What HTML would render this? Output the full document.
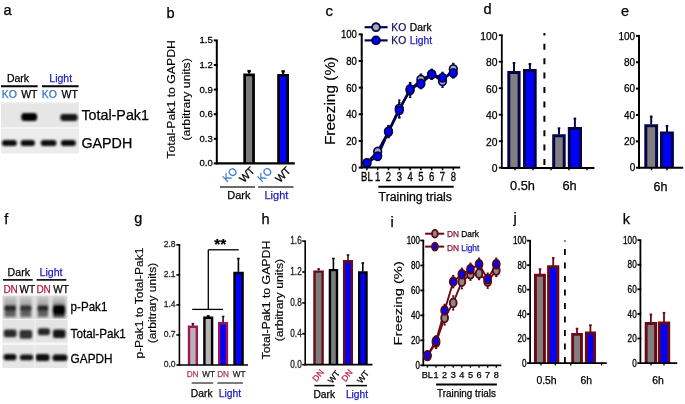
<!DOCTYPE html><html><head><meta charset="utf-8"><style>html,body{margin:0;padding:0;background:#fff;}svg{display:block;font-family:"Liberation Sans",sans-serif;filter:blur(0.3px);}</style></head><body>
<svg width="685" height="404" viewBox="0 0 685 404">
<defs><filter id="b1" x="-50%" y="-50%" width="200%" height="200%"><feGaussianBlur stdDeviation="1.2"/></filter><filter id="b2" x="-50%" y="-50%" width="200%" height="200%"><feGaussianBlur stdDeviation="0.8"/></filter><filter id="b3" x="-50%" y="-50%" width="200%" height="200%"><feGaussianBlur stdDeviation="2"/></filter></defs>
<rect width="685" height="404" fill="#fff"/>
<text x="3.5" y="15.4" font-size="14.5" fill="#000" stroke="#000" stroke-width="0.25">a</text>
<text x="6.9" y="82.3" font-size="10.5" fill="#000" stroke="#000" stroke-width="0.25">Dark</text>
<text x="49.3" y="82.3" font-size="10.5" fill="#1c1cc0" stroke="#1c1cc0" stroke-width="0.25">Light</text>
<line x1="1" y1="86.2" x2="37.6" y2="86.2" stroke="#000" stroke-width="2"/>
<line x1="42" y1="86.2" x2="78.6" y2="86.2" stroke="#000" stroke-width="2"/>
<text x="1.8" y="97.6" font-size="10.5" fill="#3878c0" stroke="#3878c0" stroke-width="0.25">KO</text>
<text x="21.2" y="97.6" font-size="10.5" fill="#000" stroke="#000" stroke-width="0.25">WT</text>
<text x="41.8" y="97.6" font-size="10.5" fill="#3878c0" stroke="#3878c0" stroke-width="0.25">KO</text>
<text x="61.6" y="97.6" font-size="10.5" fill="#000" stroke="#000" stroke-width="0.25">WT</text>
<rect x="1" y="102" width="77.8" height="25.5" fill="#e6e6e6"/>
<rect x="1" y="102" width="78" height="1.5" fill="#efefef"/>
<g filter="url(#b2)">
<rect x="21.3" y="113" width="15.8" height="8" fill="#050505" rx="3.3"/>
<rect x="60.3" y="114" width="17.4" height="6.9" fill="#121212" rx="3"/>
</g>
<rect x="1" y="127.5" width="78" height="1.5" fill="#f5f5f5"/>
<rect x="1" y="129" width="78" height="24.4" fill="#ececec"/>
<g filter="url(#b2)">
<rect x="2" y="140" width="14.8" height="6" fill="#0c0c0c" rx="2.8"/>
<rect x="20.7" y="140" width="14.2" height="6" fill="#0c0c0c" rx="2.8"/>
<rect x="40.8" y="140" width="15.6" height="6" fill="#0c0c0c" rx="2.8"/>
<rect x="60.9" y="140" width="14.9" height="6" fill="#0c0c0c" rx="2.8"/>
</g>
<text x="81.4" y="120" font-size="14.3" fill="#000" stroke="#000" stroke-width="0.25">Total-Pak1</text>
<text x="81.4" y="148.3" font-size="14.3" fill="#000" stroke="#000" stroke-width="0.25">GAPDH</text>
<text x="166.5" y="17.8" font-size="14.5" fill="#000" stroke="#000" stroke-width="0.25">b</text>
<line x1="216.8" y1="40.4" x2="216.8" y2="163.4" stroke="#000" stroke-width="2"/>
<line x1="213.8" y1="163.4" x2="217.8" y2="163.4" stroke="#000" stroke-width="2"/>
<text x="0" y="0" font-size="9.6" fill="#000" text-anchor="end" transform="translate(212.8 166.3) scale(1 1.04)" stroke="#000" stroke-width="0.25">0.0</text>
<line x1="213.8" y1="138.8" x2="217.8" y2="138.8" stroke="#000" stroke-width="2"/>
<text x="0" y="0" font-size="9.6" fill="#000" text-anchor="end" transform="translate(212.8 141.7) scale(1 1.04)" stroke="#000" stroke-width="0.25">0.3</text>
<line x1="213.8" y1="114.2" x2="217.8" y2="114.2" stroke="#000" stroke-width="2"/>
<text x="0" y="0" font-size="9.6" fill="#000" text-anchor="end" transform="translate(212.8 117.1) scale(1 1.04)" stroke="#000" stroke-width="0.25">0.6</text>
<line x1="213.8" y1="89.6" x2="217.8" y2="89.6" stroke="#000" stroke-width="2"/>
<text x="0" y="0" font-size="9.6" fill="#000" text-anchor="end" transform="translate(212.8 92.5) scale(1 1.04)" stroke="#000" stroke-width="0.25">0.9</text>
<line x1="213.8" y1="65" x2="217.8" y2="65" stroke="#000" stroke-width="2"/>
<text x="0" y="0" font-size="9.6" fill="#000" text-anchor="end" transform="translate(212.8 67.9) scale(1 1.04)" stroke="#000" stroke-width="0.25">1.2</text>
<line x1="213.8" y1="40.4" x2="217.8" y2="40.4" stroke="#000" stroke-width="2"/>
<text x="0" y="0" font-size="9.6" fill="#000" text-anchor="end" transform="translate(212.8 43.3) scale(1 1.04)" stroke="#000" stroke-width="0.25">1.5</text>
<line x1="249.1" y1="73.5" x2="249.1" y2="71" stroke="#000" stroke-width="2.2"/>
<line x1="247.4" y1="71" x2="250.8" y2="71" stroke="#000" stroke-width="2.2"/>
<line x1="283.1" y1="73.9" x2="283.1" y2="71.3" stroke="#000" stroke-width="2.2"/>
<line x1="281.4" y1="71.3" x2="284.8" y2="71.3" stroke="#000" stroke-width="2.2"/>
<rect x="244.65" y="74.85" width="8.9" height="88.55" fill="#7b7b7b"/>
<path d="M244.65 163.4V74.85H253.55V163.4" fill="none" stroke="#000" stroke-width="2.7" stroke-linejoin="miter"/>
<rect x="278.55" y="75.25" width="9.1" height="88.15" fill="#0000ff"/>
<path d="M278.55 163.4V75.25H287.65V163.4" fill="none" stroke="#000" stroke-width="2.7" stroke-linejoin="miter"/>
<text x="232.6" y="177.2" font-size="10.8" fill="#3878c0" text-anchor="middle" transform="rotate(-45 232.6 177.2)" stroke="#3878c0" stroke-width="0.25">KO</text>
<text x="249.6" y="177.2" font-size="10.8" fill="#000" text-anchor="middle" transform="rotate(-45 249.6 177.2)" stroke="#000" stroke-width="0.25">WT</text>
<text x="267.4" y="177.2" font-size="10.8" fill="#3878c0" text-anchor="middle" transform="rotate(-45 267.4 177.2)" stroke="#3878c0" stroke-width="0.25">KO</text>
<text x="285.6" y="177.2" font-size="10.8" fill="#000" text-anchor="middle" transform="rotate(-45 285.6 177.2)" stroke="#000" stroke-width="0.25">WT</text>
<line x1="220" y1="187" x2="255" y2="187" stroke="#3a3a3a" stroke-width="1.5"/>
<line x1="258.2" y1="187" x2="293.5" y2="187" stroke="#3a3a3a" stroke-width="1.5"/>
<text x="227.3" y="199.4" font-size="11" fill="#000" stroke="#000" stroke-width="0.25">Dark</text>
<text x="264.5" y="199.4" font-size="11" fill="#1c1cc0" stroke="#1c1cc0" stroke-width="0.25">Light</text>
<text transform="translate(175 99.4) rotate(-90) scale(1.17 1)" x="0" y="0" font-size="10.5" fill="#000" text-anchor="middle" stroke="#000" stroke-width="0.15">Total-Pak1 to GAPDH</text>
<text transform="translate(190.1 99.4) rotate(-90) scale(1.17 1)" x="0" y="0" font-size="10.5" fill="#000" text-anchor="middle" stroke="#000" stroke-width="0.15">(arbitrary units)</text>
<text x="325.5" y="15.6" font-size="15" fill="#000" stroke="#000" stroke-width="0.25">c</text>
<line x1="361.7" y1="34.35" x2="361.7" y2="167.6" stroke="#000" stroke-width="2"/>
<line x1="358.7" y1="167.6" x2="362.7" y2="167.6" stroke="#000" stroke-width="2"/>
<text x="0" y="0" font-size="9.6" fill="#000" text-anchor="end" transform="translate(356.9 171.57) scale(1 1.15)" stroke="#000" stroke-width="0.25">0</text>
<line x1="358.7" y1="140.95" x2="362.7" y2="140.95" stroke="#000" stroke-width="2"/>
<text x="0" y="0" font-size="9.6" fill="#000" text-anchor="end" transform="translate(356.9 144.92) scale(1 1.15)" stroke="#000" stroke-width="0.25">20</text>
<line x1="358.7" y1="114.3" x2="362.7" y2="114.3" stroke="#000" stroke-width="2"/>
<text x="0" y="0" font-size="9.6" fill="#000" text-anchor="end" transform="translate(356.9 118.27) scale(1 1.15)" stroke="#000" stroke-width="0.25">40</text>
<line x1="358.7" y1="87.65" x2="362.7" y2="87.65" stroke="#000" stroke-width="2"/>
<text x="0" y="0" font-size="9.6" fill="#000" text-anchor="end" transform="translate(356.9 91.62) scale(1 1.15)" stroke="#000" stroke-width="0.25">60</text>
<line x1="358.7" y1="61" x2="362.7" y2="61" stroke="#000" stroke-width="2"/>
<text x="0" y="0" font-size="9.6" fill="#000" text-anchor="end" transform="translate(356.9 64.97) scale(1 1.15)" stroke="#000" stroke-width="0.25">80</text>
<line x1="358.7" y1="34.35" x2="362.7" y2="34.35" stroke="#000" stroke-width="2"/>
<text x="0" y="0" font-size="9.6" fill="#000" text-anchor="end" transform="translate(356.9 38.32) scale(1 1.15)" stroke="#000" stroke-width="0.25">100</text>
<line x1="366.9" y1="167.6" x2="366.9" y2="170.2" stroke="#000" stroke-width="1.5"/>
<line x1="377.7" y1="167.6" x2="377.7" y2="170.2" stroke="#000" stroke-width="1.5"/>
<line x1="388.5" y1="167.6" x2="388.5" y2="170.2" stroke="#000" stroke-width="1.5"/>
<line x1="399.3" y1="167.6" x2="399.3" y2="170.2" stroke="#000" stroke-width="1.5"/>
<line x1="410.1" y1="167.6" x2="410.1" y2="170.2" stroke="#000" stroke-width="1.5"/>
<line x1="420.9" y1="167.6" x2="420.9" y2="170.2" stroke="#000" stroke-width="1.5"/>
<line x1="431.7" y1="167.6" x2="431.7" y2="170.2" stroke="#000" stroke-width="1.5"/>
<line x1="442.5" y1="167.6" x2="442.5" y2="170.2" stroke="#000" stroke-width="1.5"/>
<line x1="453.3" y1="167.6" x2="453.3" y2="170.2" stroke="#000" stroke-width="1.5"/>
<text x="0" y="0" font-size="9.5" fill="#000" text-anchor="middle" transform="translate(366.9 180.5) scale(1 1.25)" stroke="#000" stroke-width="0.25">BL</text>
<text x="0" y="0" font-size="9.5" fill="#000" text-anchor="middle" transform="translate(377.7 180.5) scale(1 1.25)" stroke="#000" stroke-width="0.25">1</text>
<text x="0" y="0" font-size="9.5" fill="#000" text-anchor="middle" transform="translate(388.5 180.5) scale(1 1.25)" stroke="#000" stroke-width="0.25">2</text>
<text x="0" y="0" font-size="9.5" fill="#000" text-anchor="middle" transform="translate(399.3 180.5) scale(1 1.25)" stroke="#000" stroke-width="0.25">3</text>
<text x="0" y="0" font-size="9.5" fill="#000" text-anchor="middle" transform="translate(410.1 180.5) scale(1 1.25)" stroke="#000" stroke-width="0.25">4</text>
<text x="0" y="0" font-size="9.5" fill="#000" text-anchor="middle" transform="translate(420.9 180.5) scale(1 1.25)" stroke="#000" stroke-width="0.25">5</text>
<text x="0" y="0" font-size="9.5" fill="#000" text-anchor="middle" transform="translate(431.7 180.5) scale(1 1.25)" stroke="#000" stroke-width="0.25">6</text>
<text x="0" y="0" font-size="9.5" fill="#000" text-anchor="middle" transform="translate(442.5 180.5) scale(1 1.25)" stroke="#000" stroke-width="0.25">7</text>
<text x="0" y="0" font-size="9.5" fill="#000" text-anchor="middle" transform="translate(453.3 180.5) scale(1 1.25)" stroke="#000" stroke-width="0.25">8</text>
<line x1="378.3" y1="186.8" x2="453.7" y2="186.8" stroke="#000" stroke-width="2"/>
<text x="378.6" y="200.7" font-size="12.3" fill="#000" stroke="#000" stroke-width="0.25">Training trials</text>
<text transform="translate(334.5 100.9) rotate(-90) scale(1.05 1)" x="0" y="0" font-size="14.7" fill="#000" text-anchor="middle" stroke="#000" stroke-width="0.15">Freezing (%)</text>
<line x1="366.9" y1="159.94" x2="366.9" y2="165.94" stroke="#05054a" stroke-width="1.4"/>
<line x1="365.7" y1="159.94" x2="368.1" y2="159.94" stroke="#05054a" stroke-width="1.4"/>
<line x1="365.7" y1="165.94" x2="368.1" y2="165.94" stroke="#05054a" stroke-width="1.4"/>
<line x1="377.7" y1="147.61" x2="377.7" y2="155.61" stroke="#05054a" stroke-width="1.4"/>
<line x1="376.5" y1="147.61" x2="378.9" y2="147.61" stroke="#05054a" stroke-width="1.4"/>
<line x1="376.5" y1="155.61" x2="378.9" y2="155.61" stroke="#05054a" stroke-width="1.4"/>
<line x1="388.5" y1="125.62" x2="388.5" y2="137.62" stroke="#05054a" stroke-width="1.4"/>
<line x1="387.3" y1="125.62" x2="389.7" y2="125.62" stroke="#05054a" stroke-width="1.4"/>
<line x1="387.3" y1="137.62" x2="389.7" y2="137.62" stroke="#05054a" stroke-width="1.4"/>
<line x1="399.3" y1="100.07" x2="399.3" y2="117.07" stroke="#05054a" stroke-width="1.4"/>
<line x1="398.1" y1="100.07" x2="400.5" y2="100.07" stroke="#05054a" stroke-width="1.4"/>
<line x1="398.1" y1="117.07" x2="400.5" y2="117.07" stroke="#05054a" stroke-width="1.4"/>
<line x1="410.1" y1="83.31" x2="410.1" y2="97.31" stroke="#05054a" stroke-width="1.4"/>
<line x1="408.9" y1="83.31" x2="411.3" y2="83.31" stroke="#05054a" stroke-width="1.4"/>
<line x1="408.9" y1="97.31" x2="411.3" y2="97.31" stroke="#05054a" stroke-width="1.4"/>
<line x1="420.9" y1="74.16" x2="420.9" y2="85.16" stroke="#05054a" stroke-width="1.4"/>
<line x1="419.7" y1="74.16" x2="422.1" y2="74.16" stroke="#05054a" stroke-width="1.4"/>
<line x1="419.7" y1="85.16" x2="422.1" y2="85.16" stroke="#05054a" stroke-width="1.4"/>
<line x1="431.7" y1="69.33" x2="431.7" y2="79.33" stroke="#05054a" stroke-width="1.4"/>
<line x1="430.5" y1="69.33" x2="432.9" y2="69.33" stroke="#05054a" stroke-width="1.4"/>
<line x1="430.5" y1="79.33" x2="432.9" y2="79.33" stroke="#05054a" stroke-width="1.4"/>
<line x1="442.5" y1="75.25" x2="442.5" y2="87.25" stroke="#05054a" stroke-width="1.4"/>
<line x1="441.3" y1="75.25" x2="443.7" y2="75.25" stroke="#05054a" stroke-width="1.4"/>
<line x1="441.3" y1="87.25" x2="443.7" y2="87.25" stroke="#05054a" stroke-width="1.4"/>
<line x1="453.3" y1="63.49" x2="453.3" y2="74.49" stroke="#05054a" stroke-width="1.4"/>
<line x1="452.1" y1="63.49" x2="454.5" y2="63.49" stroke="#05054a" stroke-width="1.4"/>
<line x1="452.1" y1="74.49" x2="454.5" y2="74.49" stroke="#05054a" stroke-width="1.4"/>
<line x1="366.9" y1="160.24" x2="366.9" y2="165.64" stroke="#05054a" stroke-width="1.4"/>
<line x1="365.7" y1="160.24" x2="368.1" y2="160.24" stroke="#05054a" stroke-width="1.4"/>
<line x1="365.7" y1="165.64" x2="368.1" y2="165.64" stroke="#05054a" stroke-width="1.4"/>
<line x1="377.7" y1="152.67" x2="377.7" y2="159.87" stroke="#05054a" stroke-width="1.4"/>
<line x1="376.5" y1="152.67" x2="378.9" y2="152.67" stroke="#05054a" stroke-width="1.4"/>
<line x1="376.5" y1="159.87" x2="378.9" y2="159.87" stroke="#05054a" stroke-width="1.4"/>
<line x1="388.5" y1="126.22" x2="388.5" y2="137.02" stroke="#05054a" stroke-width="1.4"/>
<line x1="387.3" y1="126.22" x2="389.7" y2="126.22" stroke="#05054a" stroke-width="1.4"/>
<line x1="387.3" y1="137.02" x2="389.7" y2="137.02" stroke="#05054a" stroke-width="1.4"/>
<line x1="399.3" y1="102.65" x2="399.3" y2="117.95" stroke="#05054a" stroke-width="1.4"/>
<line x1="398.1" y1="102.65" x2="400.5" y2="102.65" stroke="#05054a" stroke-width="1.4"/>
<line x1="398.1" y1="117.95" x2="400.5" y2="117.95" stroke="#05054a" stroke-width="1.4"/>
<line x1="410.1" y1="82.68" x2="410.1" y2="95.28" stroke="#05054a" stroke-width="1.4"/>
<line x1="408.9" y1="82.68" x2="411.3" y2="82.68" stroke="#05054a" stroke-width="1.4"/>
<line x1="408.9" y1="95.28" x2="411.3" y2="95.28" stroke="#05054a" stroke-width="1.4"/>
<line x1="420.9" y1="78.7" x2="420.9" y2="88.6" stroke="#05054a" stroke-width="1.4"/>
<line x1="419.7" y1="78.7" x2="422.1" y2="78.7" stroke="#05054a" stroke-width="1.4"/>
<line x1="419.7" y1="88.6" x2="422.1" y2="88.6" stroke="#05054a" stroke-width="1.4"/>
<line x1="431.7" y1="69.83" x2="431.7" y2="78.83" stroke="#05054a" stroke-width="1.4"/>
<line x1="430.5" y1="69.83" x2="432.9" y2="69.83" stroke="#05054a" stroke-width="1.4"/>
<line x1="430.5" y1="78.83" x2="432.9" y2="78.83" stroke="#05054a" stroke-width="1.4"/>
<line x1="442.5" y1="72.39" x2="442.5" y2="83.19" stroke="#05054a" stroke-width="1.4"/>
<line x1="441.3" y1="72.39" x2="443.7" y2="72.39" stroke="#05054a" stroke-width="1.4"/>
<line x1="441.3" y1="83.19" x2="443.7" y2="83.19" stroke="#05054a" stroke-width="1.4"/>
<line x1="453.3" y1="68.04" x2="453.3" y2="77.94" stroke="#05054a" stroke-width="1.4"/>
<line x1="452.1" y1="68.04" x2="454.5" y2="68.04" stroke="#05054a" stroke-width="1.4"/>
<line x1="452.1" y1="77.94" x2="454.5" y2="77.94" stroke="#05054a" stroke-width="1.4"/>
<polyline points="366.9,162.94 377.7,151.61 388.5,131.62 399.3,108.57 410.1,90.31 420.9,79.66 431.7,74.33 442.5,81.25 453.3,68.99" fill="none" stroke="#05054a" stroke-width="2.4"/>
<polyline points="366.9,162.94 377.7,156.27 388.5,131.62 399.3,110.3 410.1,88.98 420.9,83.65 431.7,74.33 442.5,77.79 453.3,72.99" fill="none" stroke="#05054a" stroke-width="2.4"/>
<ellipse cx="366.9" cy="162.94" rx="3.8" ry="4.2" fill="#a9a9b3" stroke="#05054a" stroke-width="1.7"/>
<ellipse cx="377.7" cy="151.61" rx="3.8" ry="4.2" fill="#a9a9b3" stroke="#05054a" stroke-width="1.7"/>
<ellipse cx="388.5" cy="131.62" rx="3.8" ry="4.2" fill="#a9a9b3" stroke="#05054a" stroke-width="1.7"/>
<ellipse cx="399.3" cy="108.57" rx="3.8" ry="4.2" fill="#a9a9b3" stroke="#05054a" stroke-width="1.7"/>
<ellipse cx="410.1" cy="90.31" rx="3.8" ry="4.2" fill="#a9a9b3" stroke="#05054a" stroke-width="1.7"/>
<ellipse cx="420.9" cy="79.66" rx="3.8" ry="4.2" fill="#a9a9b3" stroke="#05054a" stroke-width="1.7"/>
<ellipse cx="431.7" cy="74.33" rx="3.8" ry="4.2" fill="#a9a9b3" stroke="#05054a" stroke-width="1.7"/>
<ellipse cx="442.5" cy="81.25" rx="3.8" ry="4.2" fill="#a9a9b3" stroke="#05054a" stroke-width="1.7"/>
<ellipse cx="453.3" cy="68.99" rx="3.8" ry="4.2" fill="#a9a9b3" stroke="#05054a" stroke-width="1.7"/>
<ellipse cx="366.9" cy="162.94" rx="3.8" ry="4.2" fill="#0000ff" stroke="#05054a" stroke-width="1.7"/>
<ellipse cx="377.7" cy="156.27" rx="3.8" ry="4.2" fill="#0000ff" stroke="#05054a" stroke-width="1.7"/>
<ellipse cx="388.5" cy="131.62" rx="3.8" ry="4.2" fill="#0000ff" stroke="#05054a" stroke-width="1.7"/>
<ellipse cx="399.3" cy="110.3" rx="3.8" ry="4.2" fill="#0000ff" stroke="#05054a" stroke-width="1.7"/>
<ellipse cx="410.1" cy="88.98" rx="3.8" ry="4.2" fill="#0000ff" stroke="#05054a" stroke-width="1.7"/>
<ellipse cx="420.9" cy="83.65" rx="3.8" ry="4.2" fill="#0000ff" stroke="#05054a" stroke-width="1.7"/>
<ellipse cx="431.7" cy="74.33" rx="3.8" ry="4.2" fill="#0000ff" stroke="#05054a" stroke-width="1.7"/>
<ellipse cx="442.5" cy="77.79" rx="3.8" ry="4.2" fill="#0000ff" stroke="#05054a" stroke-width="1.7"/>
<ellipse cx="453.3" cy="72.99" rx="3.8" ry="4.2" fill="#0000ff" stroke="#05054a" stroke-width="1.7"/>
<line x1="364.6" y1="27.2" x2="387.6" y2="27.2" stroke="#05054a" stroke-width="2.2"/>
<circle cx="376" cy="27.2" r="3.9" fill="#a9a9b3" stroke="#05054a" stroke-width="1.9"/>
<line x1="364.6" y1="40.4" x2="387.6" y2="40.4" stroke="#05054a" stroke-width="2.2"/>
<circle cx="376" cy="40.4" r="3.9" fill="#0000ff" stroke="#05054a" stroke-width="1.9"/>
<text x="391.3" y="30.8" font-size="10.3" fill="#14145a" stroke="#14145a" stroke-width="0.25">KO</text>
<text x="409.8" y="30.8" font-size="10.3" fill="#000" stroke="#000" stroke-width="0.25">Dark</text>
<text x="391.3" y="44" font-size="10.3" fill="#14145a" stroke="#14145a" stroke-width="0.25">KO</text>
<text x="409.8" y="44" font-size="10.3" fill="#1c1cc0" stroke="#1c1cc0" stroke-width="0.25">Light</text>
<text x="483.5" y="14.3" font-size="14.5" fill="#000" stroke="#000" stroke-width="0.25">d</text>
<line x1="501.8" y1="35.2" x2="501.8" y2="167.7" stroke="#000" stroke-width="1.8"/>
<line x1="498.8" y1="167.7" x2="502.7" y2="167.7" stroke="#000" stroke-width="1.8"/>
<text x="497.4" y="172" font-size="10.3" fill="#000" text-anchor="end" stroke="#000" stroke-width="0.25">0</text>
<line x1="498.8" y1="141.2" x2="502.7" y2="141.2" stroke="#000" stroke-width="1.8"/>
<text x="497.4" y="145.5" font-size="10.3" fill="#000" text-anchor="end" stroke="#000" stroke-width="0.25">20</text>
<line x1="498.8" y1="114.7" x2="502.7" y2="114.7" stroke="#000" stroke-width="1.8"/>
<text x="497.4" y="119" font-size="10.3" fill="#000" text-anchor="end" stroke="#000" stroke-width="0.25">40</text>
<line x1="498.8" y1="88.2" x2="502.7" y2="88.2" stroke="#000" stroke-width="1.8"/>
<text x="497.4" y="92.5" font-size="10.3" fill="#000" text-anchor="end" stroke="#000" stroke-width="0.25">60</text>
<line x1="498.8" y1="61.7" x2="502.7" y2="61.7" stroke="#000" stroke-width="1.8"/>
<text x="497.4" y="66" font-size="10.3" fill="#000" text-anchor="end" stroke="#000" stroke-width="0.25">80</text>
<line x1="498.8" y1="35.2" x2="502.7" y2="35.2" stroke="#000" stroke-width="1.8"/>
<text x="497.4" y="39.5" font-size="10.3" fill="#000" text-anchor="end" stroke="#000" stroke-width="0.25">100</text>
<line x1="515" y1="167.7" x2="515" y2="170.2" stroke="#000" stroke-width="1.5"/>
<line x1="533" y1="167.7" x2="533" y2="170.2" stroke="#000" stroke-width="1.5"/>
<line x1="551" y1="167.7" x2="551" y2="170.2" stroke="#000" stroke-width="1.5"/>
<line x1="569" y1="167.7" x2="569" y2="170.2" stroke="#000" stroke-width="1.5"/>
<line x1="587" y1="167.7" x2="587" y2="170.2" stroke="#000" stroke-width="1.5"/>
<line x1="514" y1="71" x2="514" y2="63" stroke="#05054a" stroke-width="2"/>
<line x1="512.7" y1="63" x2="515.3" y2="63" stroke="#05054a" stroke-width="2"/>
<line x1="529.9" y1="69.5" x2="529.9" y2="64" stroke="#05054a" stroke-width="2"/>
<line x1="528.6" y1="64" x2="531.2" y2="64" stroke="#05054a" stroke-width="2"/>
<rect x="508.8" y="72.4" width="10.3" height="95.3" fill="#808080"/>
<path d="M508.8 167.7V72.4H519.1V167.7" fill="none" stroke="#05054a" stroke-width="3" stroke-linejoin="miter"/>
<rect x="524.5" y="70.6" width="10.7" height="97.1" fill="#0000ff"/>
<path d="M524.5 167.7V70.6H535.2V167.7" fill="none" stroke="#05054a" stroke-width="3" stroke-linejoin="miter"/>
<line x1="559" y1="134.5" x2="559" y2="128.3" stroke="#05054a" stroke-width="2"/>
<line x1="557.7" y1="128.3" x2="560.3" y2="128.3" stroke="#05054a" stroke-width="2"/>
<line x1="574.9" y1="127" x2="574.9" y2="118.6" stroke="#05054a" stroke-width="2"/>
<line x1="573.6" y1="118.6" x2="576.2" y2="118.6" stroke="#05054a" stroke-width="2"/>
<rect x="553.7" y="135.7" width="10.5" height="32" fill="#808080"/>
<path d="M553.7 167.7V135.7H564.2V167.7" fill="none" stroke="#05054a" stroke-width="3" stroke-linejoin="miter"/>
<rect x="569.3" y="128.4" width="11.2" height="39.3" fill="#0000ff"/>
<path d="M569.3 167.7V128.4H580.5V167.7" fill="none" stroke="#05054a" stroke-width="3" stroke-linejoin="miter"/>
<line x1="544.4" y1="165" x2="544.4" y2="33" stroke="#000" stroke-width="2" stroke-dasharray="6 8.4"/>
<text x="522.5" y="190.4" font-size="12.8" fill="#000" text-anchor="middle" stroke="#000" stroke-width="0.25">0.5h</text>
<text x="569.5" y="190.4" font-size="12.8" fill="#000" text-anchor="middle" stroke="#000" stroke-width="0.25">6h</text>
<text x="621" y="15.8" font-size="14.5" fill="#000" stroke="#000" stroke-width="0.25">e</text>
<line x1="639" y1="35.9" x2="639" y2="167.7" stroke="#000" stroke-width="2"/>
<line x1="636" y1="167.7" x2="640" y2="167.7" stroke="#000" stroke-width="2"/>
<text x="635.2" y="171.3" font-size="10" fill="#000" text-anchor="end" stroke="#000" stroke-width="0.25">0</text>
<line x1="636" y1="141.34" x2="640" y2="141.34" stroke="#000" stroke-width="2"/>
<text x="635.2" y="144.94" font-size="10" fill="#000" text-anchor="end" stroke="#000" stroke-width="0.25">20</text>
<line x1="636" y1="114.98" x2="640" y2="114.98" stroke="#000" stroke-width="2"/>
<text x="635.2" y="118.58" font-size="10" fill="#000" text-anchor="end" stroke="#000" stroke-width="0.25">40</text>
<line x1="636" y1="88.62" x2="640" y2="88.62" stroke="#000" stroke-width="2"/>
<text x="635.2" y="92.22" font-size="10" fill="#000" text-anchor="end" stroke="#000" stroke-width="0.25">60</text>
<line x1="636" y1="62.26" x2="640" y2="62.26" stroke="#000" stroke-width="2"/>
<text x="635.2" y="65.86" font-size="10" fill="#000" text-anchor="end" stroke="#000" stroke-width="0.25">80</text>
<line x1="636" y1="35.9" x2="640" y2="35.9" stroke="#000" stroke-width="2"/>
<text x="635.2" y="39.5" font-size="10" fill="#000" text-anchor="end" stroke="#000" stroke-width="0.25">100</text>
<line x1="651.5" y1="167.7" x2="651.5" y2="170.2" stroke="#000" stroke-width="1.5"/>
<line x1="667" y1="167.7" x2="667" y2="170.2" stroke="#000" stroke-width="1.5"/>
<line x1="651.2" y1="124.5" x2="651.2" y2="116.5" stroke="#05054a" stroke-width="2"/>
<line x1="649.9" y1="116.5" x2="652.5" y2="116.5" stroke="#05054a" stroke-width="2"/>
<line x1="667" y1="132" x2="667" y2="125.9" stroke="#05054a" stroke-width="2"/>
<line x1="665.7" y1="125.9" x2="668.3" y2="125.9" stroke="#05054a" stroke-width="2"/>
<rect x="645.8" y="125.7" width="10.8" height="42" fill="#808080"/>
<path d="M645.8 167.7V125.7H656.6V167.7" fill="none" stroke="#05054a" stroke-width="3" stroke-linejoin="miter"/>
<rect x="661.5" y="133.1" width="10.9" height="34.6" fill="#0000ff"/>
<path d="M661.5 167.7V133.1H672.4V167.7" fill="none" stroke="#05054a" stroke-width="3" stroke-linejoin="miter"/>
<text x="660.4" y="190.6" font-size="12.5" fill="#000" text-anchor="middle" stroke="#000" stroke-width="0.25">6h</text>
<text x="4.3" y="223.5" font-size="14.5" fill="#000" stroke="#000" stroke-width="0.25">f</text>
<text x="7.6" y="275.8" font-size="10.6" fill="#000" stroke="#000" stroke-width="0.25">Dark</text>
<text x="39.5" y="275.8" font-size="10.6" fill="#1c1cc0" stroke="#1c1cc0" stroke-width="0.25">Light</text>
<line x1="3" y1="279.9" x2="32.7" y2="279.9" stroke="#000" stroke-width="1.6"/>
<line x1="36.6" y1="279.9" x2="66.3" y2="279.9" stroke="#000" stroke-width="1.6"/>
<text x="3.4" y="292.7" font-size="10" fill="#b0203c" stroke="#b0203c" stroke-width="0.25">DN</text>
<text x="19.6" y="292.7" font-size="10" fill="#000" stroke="#000" stroke-width="0.25">WT</text>
<text x="36.4" y="292.7" font-size="10" fill="#b0203c" stroke="#b0203c" stroke-width="0.25">DN</text>
<text x="53.3" y="292.7" font-size="10" fill="#000" stroke="#000" stroke-width="0.25">WT</text>
<defs><linearGradient id="lane" x1="0" y1="0" x2="0" y2="1"><stop offset="0" stop-color="#c8c8c8"/><stop offset="0.35" stop-color="#a8a8a8"/><stop offset="0.65" stop-color="#8a8a8a"/><stop offset="1" stop-color="#b0b0b0"/></linearGradient><linearGradient id="lane4" x1="0" y1="0" x2="0" y2="1"><stop offset="0" stop-color="#d0d0d0"/><stop offset="0.35" stop-color="#a0a0a0"/><stop offset="0.65" stop-color="#606060"/><stop offset="1" stop-color="#a0a0a0"/></linearGradient></defs>
<rect x="2.4" y="295.6" width="65.2" height="23.4" fill="#dedede"/>
<g filter="url(#b1)">
<rect x="4.1" y="296.5" width="12.2" height="21.5" fill="url(#lane)"/>
<rect x="19.9" y="296.5" width="11.8" height="21.5" fill="url(#lane)"/>
<rect x="37.3" y="296.5" width="11.2" height="21.5" fill="url(#lane)"/>
<rect x="52.6" y="296.5" width="12.8" height="21.5" fill="url(#lane4)"/>
<rect x="4.3" y="305" width="11.8" height="6.4" fill="#2c2c2c" rx="2"/>
<rect x="4.9" y="311.8" width="10.6" height="4.8" fill="#5e5e5e" rx="1.5"/>
<rect x="20.1" y="305" width="11.4" height="6.4" fill="#383838" rx="2"/>
<rect x="20.7" y="311.8" width="10.2" height="4.8" fill="#5e5e5e" rx="1.5"/>
<rect x="37.5" y="305" width="10.8" height="6.4" fill="#2a2a2a" rx="2"/>
<rect x="38.1" y="311.8" width="9.6" height="4.8" fill="#5e5e5e" rx="1.5"/>
<rect x="52.8" y="304.6" width="12.4" height="10.6" fill="#060606" rx="3"/>
<rect x="53.5" y="314.5" width="11" height="2.8" fill="#3c3c3c" rx="1"/>
</g>
<rect x="2.4" y="319.1" width="65.2" height="0.9" fill="#f2f2f2"/>
<rect x="2.4" y="320" width="65.2" height="22.7" fill="#e4e4e4"/>
<g filter="url(#b1)">
<rect x="3.8" y="329.4" width="12.7" height="7.8" fill="#2c2c2c" rx="2.2"/>
<rect x="19.6" y="330" width="12.6" height="8.8" fill="#303030" rx="2.2"/>
<rect x="37.9" y="328.2" width="12" height="7" fill="#262626" rx="2.2"/>
<rect x="53" y="329.4" width="12.5" height="8.6" fill="#141414" rx="2.2"/>
</g>
<rect x="2.4" y="342.7" width="65.2" height="2.3" fill="#f6f6f6"/>
<rect x="2.4" y="345" width="65.2" height="23" fill="#e6e6e6"/>
<g filter="url(#b2)">
<rect x="3.6" y="353.9" width="12.8" height="6.3" fill="#0c0c0c" rx="2.8"/>
<rect x="19.9" y="354.4" width="13.3" height="5.8" fill="#121212" rx="2.8"/>
<rect x="35.7" y="353.9" width="13.8" height="7.2" fill="#080808" rx="2.8"/>
<rect x="52.6" y="354.4" width="14.8" height="6.7" fill="#0a0a0a" rx="2.8"/>
</g>
<line x1="34.9" y1="320" x2="34.9" y2="368" stroke="#fafafa" stroke-width="0.8"/>
<text transform="translate(70.6 310.7) scale(1 1.1)" x="0" y="0" font-size="11.6" fill="#000" stroke="#000" stroke-width="0.25">p-Pak1</text>
<text transform="translate(70.6 337.8) scale(1 1.1)" x="0" y="0" font-size="11.7" fill="#000" stroke="#000" stroke-width="0.25">Total-Pak1</text>
<text transform="translate(70.6 363.2) scale(1 1.1)" x="0" y="0" font-size="11.8" fill="#000" stroke="#000" stroke-width="0.25">GAPDH</text>
<text x="134.3" y="222.5" font-size="14.5" fill="#000" stroke="#000" stroke-width="0.25">g</text>
<line x1="179.4" y1="244.8" x2="179.4" y2="365" stroke="#000" stroke-width="1.6"/>
<line x1="176.4" y1="365" x2="180.2" y2="365" stroke="#000" stroke-width="1.6"/>
<text x="0" y="0" font-size="8.6" fill="#222" text-anchor="end" transform="translate(175.6 367.43) scale(1 1.05)" stroke="#222" stroke-width="0.25">0.0</text>
<line x1="176.4" y1="334.95" x2="180.2" y2="334.95" stroke="#000" stroke-width="1.6"/>
<text x="0" y="0" font-size="8.6" fill="#222" text-anchor="end" transform="translate(175.6 337.38) scale(1 1.05)" stroke="#222" stroke-width="0.25">0.7</text>
<line x1="176.4" y1="304.9" x2="180.2" y2="304.9" stroke="#000" stroke-width="1.6"/>
<text x="0" y="0" font-size="8.6" fill="#222" text-anchor="end" transform="translate(175.6 307.33) scale(1 1.05)" stroke="#222" stroke-width="0.25">1.4</text>
<line x1="176.4" y1="274.85" x2="180.2" y2="274.85" stroke="#000" stroke-width="1.6"/>
<text x="0" y="0" font-size="8.6" fill="#222" text-anchor="end" transform="translate(175.6 277.28) scale(1 1.05)" stroke="#222" stroke-width="0.25">2.1</text>
<line x1="176.4" y1="244.8" x2="180.2" y2="244.8" stroke="#000" stroke-width="1.6"/>
<text x="0" y="0" font-size="8.6" fill="#222" text-anchor="end" transform="translate(175.6 247.23) scale(1 1.05)" stroke="#222" stroke-width="0.25">2.8</text>
<line x1="192.9" y1="326" x2="192.9" y2="323.7" stroke="#2a1018" stroke-width="1.6"/>
<line x1="191.6" y1="323.7" x2="194.2" y2="323.7" stroke="#2a1018" stroke-width="1.6"/>
<line x1="208.2" y1="318" x2="208.2" y2="316" stroke="#000" stroke-width="1.8"/>
<line x1="206.7" y1="316" x2="209.7" y2="316" stroke="#000" stroke-width="1.8"/>
<line x1="223.1" y1="322.5" x2="223.1" y2="316.5" stroke="#2a1018" stroke-width="1.6"/>
<line x1="221.8" y1="316.5" x2="224.4" y2="316.5" stroke="#2a1018" stroke-width="1.6"/>
<line x1="238.4" y1="271.85" x2="238.4" y2="258.54" stroke="#000" stroke-width="1.6"/>
<line x1="237.15" y1="258.54" x2="239.65" y2="258.54" stroke="#000" stroke-width="1.6"/>
<rect x="189" y="326.71" width="7.8" height="38.29" fill="#b4b4b4"/>
<path d="M189 365V326.71H196.8V365" fill="none" stroke="#a31452" stroke-width="2.4" stroke-linejoin="miter"/>
<rect x="204.4" y="317.69" width="7.7" height="47.31" fill="#b4b4b4"/>
<path d="M204.4 365V317.69H212.1V365" fill="none" stroke="#000" stroke-width="2.4" stroke-linejoin="miter"/>
<rect x="219.2" y="323.27" width="7.7" height="41.73" fill="#0000ff"/>
<path d="M219.2 365V323.27H226.9V365" fill="none" stroke="#a31452" stroke-width="2.4" stroke-linejoin="miter"/>
<rect x="234.5" y="273.05" width="8.1" height="91.95" fill="#0000ff"/>
<path d="M234.5 365V273.05H242.6V365" fill="none" stroke="#000" stroke-width="2.4" stroke-linejoin="miter"/>
<line x1="192.2" y1="309.4" x2="223.1" y2="309.4" stroke="#000" stroke-width="1.3"/>
<line x1="208.3" y1="309.4" x2="208.3" y2="249.8" stroke="#000" stroke-width="1.3"/>
<line x1="208.3" y1="249.8" x2="238.7" y2="249.8" stroke="#000" stroke-width="1.3"/>
<text x="220.2" y="248.8" font-size="15.5" fill="#000" text-anchor="middle" font-weight="bold" stroke="#000" stroke-width="0.25">**</text>
<text x="192.6" y="376.8" font-size="8.2" fill="#b0405c" text-anchor="middle" stroke="#b0405c" stroke-width="0.25">DN</text>
<text x="208.6" y="376.8" font-size="8.2" fill="#222" text-anchor="middle" stroke="#222" stroke-width="0.25">WT</text>
<text x="223.1" y="376.8" font-size="8.2" fill="#b0405c" text-anchor="middle" stroke="#b0405c" stroke-width="0.25">DN</text>
<text x="239.2" y="376.8" font-size="8.2" fill="#222" text-anchor="middle" stroke="#222" stroke-width="0.25">WT</text>
<line x1="191.7" y1="383" x2="213.2" y2="383" stroke="#333" stroke-width="1.3"/>
<line x1="217.4" y1="383" x2="242.9" y2="383" stroke="#333" stroke-width="1.3"/>
<text x="190.8" y="396.5" font-size="10.3" fill="#000" stroke="#000" stroke-width="0.25">Dark</text>
<text x="218.7" y="396.5" font-size="10.3" fill="#1c1cc0" stroke="#1c1cc0" stroke-width="0.25">Light</text>
<text transform="translate(143.3 303.1) rotate(-90) scale(1.13 1)" x="0" y="0" font-size="10.6" fill="#000" text-anchor="middle" stroke="#000" stroke-width="0.15">p-Pak1 to Total-Pak1</text>
<text transform="translate(156.4 303.1) rotate(-90) scale(1.13 1)" x="0" y="0" font-size="10.6" fill="#000" text-anchor="middle" stroke="#000" stroke-width="0.15">(arbitrary units)</text>
<text x="261.6" y="223.5" font-size="14.5" fill="#000" stroke="#000" stroke-width="0.25">h</text>
<line x1="305.2" y1="241.1" x2="305.2" y2="364.7" stroke="#000" stroke-width="1.6"/>
<line x1="302.2" y1="364.7" x2="306" y2="364.7" stroke="#000" stroke-width="1.6"/>
<text x="0" y="0" font-size="8.2" fill="#222" text-anchor="end" transform="translate(301.7 367.8) scale(1 1.33)" stroke="#222" stroke-width="0.25">0.0</text>
<line x1="302.2" y1="333.8" x2="306" y2="333.8" stroke="#000" stroke-width="1.6"/>
<text x="0" y="0" font-size="8.2" fill="#222" text-anchor="end" transform="translate(301.7 336.9) scale(1 1.33)" stroke="#222" stroke-width="0.25">0.4</text>
<line x1="302.2" y1="302.9" x2="306" y2="302.9" stroke="#000" stroke-width="1.6"/>
<text x="0" y="0" font-size="8.2" fill="#222" text-anchor="end" transform="translate(301.7 306) scale(1 1.33)" stroke="#222" stroke-width="0.25">0.8</text>
<line x1="302.2" y1="272" x2="306" y2="272" stroke="#000" stroke-width="1.6"/>
<text x="0" y="0" font-size="8.2" fill="#222" text-anchor="end" transform="translate(301.7 275.1) scale(1 1.33)" stroke="#222" stroke-width="0.25">1.2</text>
<line x1="302.2" y1="241.1" x2="306" y2="241.1" stroke="#000" stroke-width="1.6"/>
<text x="0" y="0" font-size="8.2" fill="#222" text-anchor="end" transform="translate(301.7 244.2) scale(1 1.33)" stroke="#222" stroke-width="0.25">1.6</text>
<line x1="318.6" y1="270.5" x2="318.6" y2="269" stroke="#2a0a10" stroke-width="1.6"/>
<line x1="317.35" y1="269" x2="319.85" y2="269" stroke="#2a0a10" stroke-width="1.6"/>
<line x1="333.4" y1="269" x2="333.4" y2="258.5" stroke="#000" stroke-width="1.6"/>
<line x1="332.1" y1="258.5" x2="334.7" y2="258.5" stroke="#000" stroke-width="1.6"/>
<line x1="348" y1="260.5" x2="348" y2="255" stroke="#2a0a10" stroke-width="1.6"/>
<line x1="346.7" y1="255" x2="349.3" y2="255" stroke="#2a0a10" stroke-width="1.6"/>
<line x1="362.8" y1="271.5" x2="362.8" y2="263" stroke="#000" stroke-width="1.6"/>
<line x1="361.5" y1="263" x2="364.1" y2="263" stroke="#000" stroke-width="1.6"/>
<rect x="314.5" y="271.65" width="8.1" height="93.05" fill="#7c7c7c"/>
<path d="M314.5 364.7V271.65H322.6V364.7" fill="none" stroke="#6a0a14" stroke-width="2.4" stroke-linejoin="miter"/>
<rect x="329.9" y="270.11" width="7.1" height="94.59" fill="#7c7c7c"/>
<path d="M329.9 364.7V270.11H337V364.7" fill="none" stroke="#000" stroke-width="2.4" stroke-linejoin="miter"/>
<rect x="344.2" y="261.3" width="7.6" height="103.4" fill="#0000ff"/>
<path d="M344.2 364.7V261.3H351.8V364.7" fill="none" stroke="#6a0a14" stroke-width="2.4" stroke-linejoin="miter"/>
<rect x="359.2" y="272.43" width="7.3" height="92.27" fill="#0000ff"/>
<path d="M359.2 364.7V272.43H366.5V364.7" fill="none" stroke="#000" stroke-width="2.4" stroke-linejoin="miter"/>
<text x="320.4" y="377.3" font-size="8.6" fill="#c0204a" text-anchor="middle" transform="rotate(-52 320.4 377.3)" stroke="#c0204a" stroke-width="0.25">DN</text>
<text x="336.1" y="378.7" font-size="8.6" fill="#000" text-anchor="middle" transform="rotate(-52 336.1 378.7)" stroke="#000" stroke-width="0.25">WT</text>
<text x="349.3" y="377.3" font-size="8.6" fill="#c0204a" text-anchor="middle" transform="rotate(-52 349.3 377.3)" stroke="#c0204a" stroke-width="0.25">DN</text>
<text x="365.4" y="378.7" font-size="8.6" fill="#000" text-anchor="middle" transform="rotate(-52 365.4 378.7)" stroke="#000" stroke-width="0.25">WT</text>
<line x1="314.3" y1="385.6" x2="334.5" y2="385.6" stroke="#000" stroke-width="1.5"/>
<line x1="346" y1="385.6" x2="367" y2="385.6" stroke="#000" stroke-width="1.5"/>
<text x="313.5" y="398" font-size="10.2" fill="#000" stroke="#000" stroke-width="0.25">Dark</text>
<text x="345.9" y="398" font-size="10.2" fill="#1c1cc0" stroke="#1c1cc0" stroke-width="0.25">Light</text>
<text transform="translate(269.8 300.1) rotate(-90) scale(1.23 1)" x="0" y="0" font-size="10" fill="#000" text-anchor="middle" stroke="#000" stroke-width="0.15">Total-Pak1 to GAPDH</text>
<text transform="translate(282.9 300.1) rotate(-90) scale(1.23 1)" x="0" y="0" font-size="10" fill="#000" text-anchor="middle" stroke="#000" stroke-width="0.15">(arbitrary units)</text>
<text x="390.6" y="227.2" font-size="14.5" fill="#000" stroke="#000" stroke-width="0.25">i</text>
<line x1="423.3" y1="240.5" x2="423.3" y2="365.3" stroke="#000" stroke-width="1.8"/>
<line x1="420.3" y1="365.3" x2="424.2" y2="365.3" stroke="#000" stroke-width="1.8"/>
<text x="0" y="0" font-size="8" fill="#000" text-anchor="end" transform="translate(420 368.9) scale(1 1.25)" stroke="#000" stroke-width="0.25">0</text>
<line x1="420.3" y1="340.34" x2="424.2" y2="340.34" stroke="#000" stroke-width="1.8"/>
<text x="0" y="0" font-size="8" fill="#000" text-anchor="end" transform="translate(420 343.94) scale(1 1.25)" stroke="#000" stroke-width="0.25">20</text>
<line x1="420.3" y1="315.38" x2="424.2" y2="315.38" stroke="#000" stroke-width="1.8"/>
<text x="0" y="0" font-size="8" fill="#000" text-anchor="end" transform="translate(420 318.98) scale(1 1.25)" stroke="#000" stroke-width="0.25">40</text>
<line x1="420.3" y1="290.42" x2="424.2" y2="290.42" stroke="#000" stroke-width="1.8"/>
<text x="0" y="0" font-size="8" fill="#000" text-anchor="end" transform="translate(420 294.02) scale(1 1.25)" stroke="#000" stroke-width="0.25">60</text>
<line x1="420.3" y1="265.46" x2="424.2" y2="265.46" stroke="#000" stroke-width="1.8"/>
<text x="0" y="0" font-size="8" fill="#000" text-anchor="end" transform="translate(420 269.06) scale(1 1.25)" stroke="#000" stroke-width="0.25">80</text>
<line x1="420.3" y1="240.5" x2="424.2" y2="240.5" stroke="#000" stroke-width="1.8"/>
<text x="0" y="0" font-size="8" fill="#000" text-anchor="end" transform="translate(420 244.1) scale(1 1.25)" stroke="#000" stroke-width="0.25">100</text>
<line x1="427.4" y1="365.3" x2="427.4" y2="367.7" stroke="#000" stroke-width="1.3"/>
<line x1="436.01" y1="365.3" x2="436.01" y2="367.7" stroke="#000" stroke-width="1.3"/>
<line x1="444.62" y1="365.3" x2="444.62" y2="367.7" stroke="#000" stroke-width="1.3"/>
<line x1="453.23" y1="365.3" x2="453.23" y2="367.7" stroke="#000" stroke-width="1.3"/>
<line x1="461.84" y1="365.3" x2="461.84" y2="367.7" stroke="#000" stroke-width="1.3"/>
<line x1="470.45" y1="365.3" x2="470.45" y2="367.7" stroke="#000" stroke-width="1.3"/>
<line x1="479.06" y1="365.3" x2="479.06" y2="367.7" stroke="#000" stroke-width="1.3"/>
<line x1="487.67" y1="365.3" x2="487.67" y2="367.7" stroke="#000" stroke-width="1.3"/>
<line x1="496.28" y1="365.3" x2="496.28" y2="367.7" stroke="#000" stroke-width="1.3"/>
<text x="427.3" y="378" font-size="9.2" fill="#000" text-anchor="middle" stroke="#000" stroke-width="0.25">BL</text>
<text x="436.01" y="378" font-size="9.2" fill="#000" text-anchor="middle" stroke="#000" stroke-width="0.25">1</text>
<text x="444.62" y="378" font-size="9.2" fill="#000" text-anchor="middle" stroke="#000" stroke-width="0.25">2</text>
<text x="453.23" y="378" font-size="9.2" fill="#000" text-anchor="middle" stroke="#000" stroke-width="0.25">3</text>
<text x="461.84" y="378" font-size="9.2" fill="#000" text-anchor="middle" stroke="#000" stroke-width="0.25">4</text>
<text x="470.45" y="378" font-size="9.2" fill="#000" text-anchor="middle" stroke="#000" stroke-width="0.25">5</text>
<text x="479.06" y="378" font-size="9.2" fill="#000" text-anchor="middle" stroke="#000" stroke-width="0.25">6</text>
<text x="487.67" y="378" font-size="9.2" fill="#000" text-anchor="middle" stroke="#000" stroke-width="0.25">7</text>
<text x="496.28" y="378" font-size="9.2" fill="#000" text-anchor="middle" stroke="#000" stroke-width="0.25">8</text>
<line x1="436.1" y1="384.5" x2="496.9" y2="384.5" stroke="#000" stroke-width="1.8"/>
<text x="437" y="396.8" font-size="10" fill="#000" stroke="#000" stroke-width="0.25" textLength="59" lengthAdjust="spacingAndGlyphs">Training trials</text>
<text transform="translate(402.2 303.3) rotate(-90) scale(1.27 1)" x="0" y="0" font-size="11.6" fill="#000" text-anchor="middle" stroke="#000" stroke-width="0.15">Freezing (%)</text>
<line x1="427.4" y1="351.94" x2="427.4" y2="359.94" stroke="#5a0810" stroke-width="1.3"/>
<line x1="426.3" y1="351.94" x2="428.5" y2="351.94" stroke="#5a0810" stroke-width="1.3"/>
<line x1="426.3" y1="359.94" x2="428.5" y2="359.94" stroke="#5a0810" stroke-width="1.3"/>
<line x1="436.01" y1="336.46" x2="436.01" y2="348.46" stroke="#5a0810" stroke-width="1.3"/>
<line x1="434.91" y1="336.46" x2="437.11" y2="336.46" stroke="#5a0810" stroke-width="1.3"/>
<line x1="434.91" y1="348.46" x2="437.11" y2="348.46" stroke="#5a0810" stroke-width="1.3"/>
<line x1="444.62" y1="310.88" x2="444.62" y2="324.88" stroke="#5a0810" stroke-width="1.3"/>
<line x1="443.52" y1="310.88" x2="445.72" y2="310.88" stroke="#5a0810" stroke-width="1.3"/>
<line x1="443.52" y1="324.88" x2="445.72" y2="324.88" stroke="#5a0810" stroke-width="1.3"/>
<line x1="453.23" y1="295.9" x2="453.23" y2="309.9" stroke="#5a0810" stroke-width="1.3"/>
<line x1="452.13" y1="295.9" x2="454.33" y2="295.9" stroke="#5a0810" stroke-width="1.3"/>
<line x1="452.13" y1="309.9" x2="454.33" y2="309.9" stroke="#5a0810" stroke-width="1.3"/>
<line x1="461.84" y1="274.68" x2="461.84" y2="288.68" stroke="#5a0810" stroke-width="1.3"/>
<line x1="460.74" y1="274.68" x2="462.94" y2="274.68" stroke="#5a0810" stroke-width="1.3"/>
<line x1="460.74" y1="288.68" x2="462.94" y2="288.68" stroke="#5a0810" stroke-width="1.3"/>
<line x1="470.45" y1="268.2" x2="470.45" y2="280.2" stroke="#5a0810" stroke-width="1.3"/>
<line x1="469.35" y1="268.2" x2="471.55" y2="268.2" stroke="#5a0810" stroke-width="1.3"/>
<line x1="469.35" y1="280.2" x2="471.55" y2="280.2" stroke="#5a0810" stroke-width="1.3"/>
<line x1="479.06" y1="267.57" x2="479.06" y2="279.57" stroke="#5a0810" stroke-width="1.3"/>
<line x1="477.96" y1="267.57" x2="480.16" y2="267.57" stroke="#5a0810" stroke-width="1.3"/>
<line x1="477.96" y1="279.57" x2="480.16" y2="279.57" stroke="#5a0810" stroke-width="1.3"/>
<line x1="487.67" y1="275.18" x2="487.67" y2="288.18" stroke="#5a0810" stroke-width="1.3"/>
<line x1="486.57" y1="275.18" x2="488.77" y2="275.18" stroke="#5a0810" stroke-width="1.3"/>
<line x1="486.57" y1="288.18" x2="488.77" y2="288.18" stroke="#5a0810" stroke-width="1.3"/>
<line x1="496.28" y1="264.45" x2="496.28" y2="276.45" stroke="#5a0810" stroke-width="1.3"/>
<line x1="495.18" y1="264.45" x2="497.38" y2="264.45" stroke="#5a0810" stroke-width="1.3"/>
<line x1="495.18" y1="276.45" x2="497.38" y2="276.45" stroke="#5a0810" stroke-width="1.3"/>
<line x1="427.4" y1="351.32" x2="427.4" y2="359.32" stroke="#5a0810" stroke-width="1.3"/>
<line x1="426.3" y1="351.32" x2="428.5" y2="351.32" stroke="#5a0810" stroke-width="1.3"/>
<line x1="426.3" y1="359.32" x2="428.5" y2="359.32" stroke="#5a0810" stroke-width="1.3"/>
<line x1="436.01" y1="335.96" x2="436.01" y2="345.96" stroke="#5a0810" stroke-width="1.3"/>
<line x1="434.91" y1="335.96" x2="437.11" y2="335.96" stroke="#5a0810" stroke-width="1.3"/>
<line x1="434.91" y1="345.96" x2="437.11" y2="345.96" stroke="#5a0810" stroke-width="1.3"/>
<line x1="444.62" y1="304.39" x2="444.62" y2="316.39" stroke="#5a0810" stroke-width="1.3"/>
<line x1="443.52" y1="304.39" x2="445.72" y2="304.39" stroke="#5a0810" stroke-width="1.3"/>
<line x1="443.52" y1="316.39" x2="445.72" y2="316.39" stroke="#5a0810" stroke-width="1.3"/>
<line x1="453.23" y1="275.68" x2="453.23" y2="287.68" stroke="#5a0810" stroke-width="1.3"/>
<line x1="452.13" y1="275.68" x2="454.33" y2="275.68" stroke="#5a0810" stroke-width="1.3"/>
<line x1="452.13" y1="287.68" x2="454.33" y2="287.68" stroke="#5a0810" stroke-width="1.3"/>
<line x1="461.84" y1="268.2" x2="461.84" y2="280.2" stroke="#5a0810" stroke-width="1.3"/>
<line x1="460.74" y1="268.2" x2="462.94" y2="268.2" stroke="#5a0810" stroke-width="1.3"/>
<line x1="460.74" y1="280.2" x2="462.94" y2="280.2" stroke="#5a0810" stroke-width="1.3"/>
<line x1="470.45" y1="263.2" x2="470.45" y2="275.2" stroke="#5a0810" stroke-width="1.3"/>
<line x1="469.35" y1="263.2" x2="471.55" y2="263.2" stroke="#5a0810" stroke-width="1.3"/>
<line x1="469.35" y1="275.2" x2="471.55" y2="275.2" stroke="#5a0810" stroke-width="1.3"/>
<line x1="479.06" y1="258.21" x2="479.06" y2="270.21" stroke="#5a0810" stroke-width="1.3"/>
<line x1="477.96" y1="258.21" x2="480.16" y2="258.21" stroke="#5a0810" stroke-width="1.3"/>
<line x1="477.96" y1="270.21" x2="480.16" y2="270.21" stroke="#5a0810" stroke-width="1.3"/>
<line x1="487.67" y1="273.19" x2="487.67" y2="285.19" stroke="#5a0810" stroke-width="1.3"/>
<line x1="486.57" y1="273.19" x2="488.77" y2="273.19" stroke="#5a0810" stroke-width="1.3"/>
<line x1="486.57" y1="285.19" x2="488.77" y2="285.19" stroke="#5a0810" stroke-width="1.3"/>
<line x1="496.28" y1="258.21" x2="496.28" y2="270.21" stroke="#5a0810" stroke-width="1.3"/>
<line x1="495.18" y1="258.21" x2="497.38" y2="258.21" stroke="#5a0810" stroke-width="1.3"/>
<line x1="495.18" y1="270.21" x2="497.38" y2="270.21" stroke="#5a0810" stroke-width="1.3"/>
<polyline points="427.4,355.94 436.01,342.46 444.62,317.88 453.23,302.9 461.84,281.68 470.45,274.2 479.06,273.57 487.67,281.68 496.28,270.45" fill="none" stroke="#700a18" stroke-width="1.9"/>
<polyline points="427.4,355.32 436.01,340.96 444.62,310.39 453.23,281.68 461.84,274.2 470.45,269.2 479.06,264.21 487.67,279.19 496.28,264.21" fill="none" stroke="#700a18" stroke-width="1.9"/>
<ellipse cx="427.4" cy="355.94" rx="3.4" ry="4.4" fill="#8a8a8a" stroke="#5a0812" stroke-width="1.9"/>
<ellipse cx="436.01" cy="342.46" rx="3.4" ry="4.4" fill="#8a8a8a" stroke="#5a0812" stroke-width="1.9"/>
<ellipse cx="444.62" cy="317.88" rx="3.4" ry="4.4" fill="#8a8a8a" stroke="#5a0812" stroke-width="1.9"/>
<ellipse cx="453.23" cy="302.9" rx="3.4" ry="4.4" fill="#8a8a8a" stroke="#5a0812" stroke-width="1.9"/>
<ellipse cx="461.84" cy="281.68" rx="3.4" ry="4.4" fill="#8a8a8a" stroke="#5a0812" stroke-width="1.9"/>
<ellipse cx="470.45" cy="274.2" rx="3.4" ry="4.4" fill="#8a8a8a" stroke="#5a0812" stroke-width="1.9"/>
<ellipse cx="479.06" cy="273.57" rx="3.4" ry="4.4" fill="#8a8a8a" stroke="#5a0812" stroke-width="1.9"/>
<ellipse cx="487.67" cy="281.68" rx="3.4" ry="4.4" fill="#8a8a8a" stroke="#5a0812" stroke-width="1.9"/>
<ellipse cx="496.28" cy="270.45" rx="3.4" ry="4.4" fill="#8a8a8a" stroke="#5a0812" stroke-width="1.9"/>
<ellipse cx="427.4" cy="355.32" rx="3.4" ry="4.4" fill="#0000ff" stroke="#5a0812" stroke-width="1.9"/>
<ellipse cx="436.01" cy="340.96" rx="3.4" ry="4.4" fill="#0000ff" stroke="#5a0812" stroke-width="1.9"/>
<ellipse cx="444.62" cy="310.39" rx="3.4" ry="4.4" fill="#0000ff" stroke="#5a0812" stroke-width="1.9"/>
<ellipse cx="453.23" cy="281.68" rx="3.4" ry="4.4" fill="#0000ff" stroke="#5a0812" stroke-width="1.9"/>
<ellipse cx="461.84" cy="274.2" rx="3.4" ry="4.4" fill="#0000ff" stroke="#5a0812" stroke-width="1.9"/>
<ellipse cx="470.45" cy="269.2" rx="3.4" ry="4.4" fill="#0000ff" stroke="#5a0812" stroke-width="1.9"/>
<ellipse cx="479.06" cy="264.21" rx="3.4" ry="4.4" fill="#0000ff" stroke="#5a0812" stroke-width="1.9"/>
<ellipse cx="487.67" cy="279.19" rx="3.4" ry="4.4" fill="#0000ff" stroke="#5a0812" stroke-width="1.9"/>
<ellipse cx="496.28" cy="264.21" rx="3.4" ry="4.4" fill="#0000ff" stroke="#5a0812" stroke-width="1.9"/>
<line x1="425.1" y1="233.7" x2="444.2" y2="233.7" stroke="#6a0a16" stroke-width="2"/>
<ellipse cx="434.9" cy="233.7" rx="2.9" ry="3.8" fill="#8a8a8a" stroke="#640814" stroke-width="1.9"/>
<line x1="425.1" y1="246.6" x2="444.2" y2="246.6" stroke="#6a0a16" stroke-width="2"/>
<ellipse cx="434.9" cy="246.6" rx="2.9" ry="3.9" fill="#0000ff" stroke="#640814" stroke-width="1.9"/>
<text x="447" y="237.4" font-size="8.3" fill="#8a1a3a" stroke="#8a1a3a" stroke-width="0.25">DN</text>
<text x="461.3" y="237.4" font-size="8.3" fill="#000" stroke="#000" stroke-width="0.25">Dark</text>
<text x="447" y="250.5" font-size="8.3" fill="#8a1a3a" stroke="#8a1a3a" stroke-width="0.25">DN</text>
<text x="461.3" y="250.5" font-size="8.3" fill="#1c1cc0" stroke="#1c1cc0" stroke-width="0.25">Light</text>
<text x="513.4" y="223.3" font-size="14.5" fill="#000" stroke="#000" stroke-width="0.25">j</text>
<line x1="530.1" y1="240.7" x2="530.1" y2="363.1" stroke="#000" stroke-width="1.8"/>
<line x1="527.1" y1="363.1" x2="531" y2="363.1" stroke="#000" stroke-width="1.8"/>
<text x="0" y="0" font-size="8.1" fill="#000" text-anchor="end" transform="translate(526.4 366.75) scale(1 1.25)" stroke="#000" stroke-width="0.25">0</text>
<line x1="527.1" y1="338.62" x2="531" y2="338.62" stroke="#000" stroke-width="1.8"/>
<text x="0" y="0" font-size="8.1" fill="#000" text-anchor="end" transform="translate(526.4 342.26) scale(1 1.25)" stroke="#000" stroke-width="0.25">20</text>
<line x1="527.1" y1="314.14" x2="531" y2="314.14" stroke="#000" stroke-width="1.8"/>
<text x="0" y="0" font-size="8.1" fill="#000" text-anchor="end" transform="translate(526.4 317.79) scale(1 1.25)" stroke="#000" stroke-width="0.25">40</text>
<line x1="527.1" y1="289.66" x2="531" y2="289.66" stroke="#000" stroke-width="1.8"/>
<text x="0" y="0" font-size="8.1" fill="#000" text-anchor="end" transform="translate(526.4 293.31) scale(1 1.25)" stroke="#000" stroke-width="0.25">60</text>
<line x1="527.1" y1="265.18" x2="531" y2="265.18" stroke="#000" stroke-width="1.8"/>
<text x="0" y="0" font-size="8.1" fill="#000" text-anchor="end" transform="translate(526.4 268.82) scale(1 1.25)" stroke="#000" stroke-width="0.25">80</text>
<line x1="527.1" y1="240.7" x2="531" y2="240.7" stroke="#000" stroke-width="1.8"/>
<text x="0" y="0" font-size="8.1" fill="#000" text-anchor="end" transform="translate(526.4 244.35) scale(1 1.25)" stroke="#000" stroke-width="0.25">100</text>
<line x1="541" y1="363.1" x2="541" y2="365.5" stroke="#000" stroke-width="1.3"/>
<line x1="555.3" y1="363.1" x2="555.3" y2="365.5" stroke="#000" stroke-width="1.3"/>
<line x1="570.7" y1="363.1" x2="570.7" y2="365.5" stroke="#000" stroke-width="1.3"/>
<line x1="601.6" y1="363.1" x2="601.6" y2="365.5" stroke="#000" stroke-width="1.3"/>
<line x1="540" y1="274.5" x2="540" y2="269.1" stroke="#6a0a14" stroke-width="1.8"/>
<line x1="538.7" y1="269.1" x2="541.3" y2="269.1" stroke="#6a0a14" stroke-width="1.8"/>
<line x1="553.2" y1="266" x2="553.2" y2="258" stroke="#6a0a14" stroke-width="1.8"/>
<line x1="551.9" y1="258" x2="554.5" y2="258" stroke="#6a0a14" stroke-width="1.8"/>
<rect x="535.45" y="275.25" width="9" height="87.85" fill="#808080"/>
<path d="M535.45 363.1V275.25H544.45V363.1" fill="none" stroke="#6a0a14" stroke-width="2.9" stroke-linejoin="miter"/>
<rect x="548.55" y="266.65" width="9.3" height="96.45" fill="#0000ff"/>
<path d="M548.55 363.1V266.65H557.85V363.1" fill="none" stroke="#6a0a14" stroke-width="2.9" stroke-linejoin="miter"/>
<line x1="577" y1="333.5" x2="577" y2="328.6" stroke="#6a0a14" stroke-width="1.8"/>
<line x1="575.7" y1="328.6" x2="578.3" y2="328.6" stroke="#6a0a14" stroke-width="1.8"/>
<line x1="590.4" y1="332" x2="590.4" y2="325.2" stroke="#6a0a14" stroke-width="1.8"/>
<line x1="589.1" y1="325.2" x2="591.7" y2="325.2" stroke="#6a0a14" stroke-width="1.8"/>
<rect x="572.65" y="334.35" width="8.8" height="28.75" fill="#808080"/>
<path d="M572.65 363.1V334.35H581.45V363.1" fill="none" stroke="#6a0a14" stroke-width="2.9" stroke-linejoin="miter"/>
<rect x="586.35" y="332.85" width="8.2" height="30.25" fill="#0000ff"/>
<path d="M586.35 363.1V332.85H594.55V363.1" fill="none" stroke="#6a0a14" stroke-width="2.9" stroke-linejoin="miter"/>
<line x1="564.9" y1="363" x2="564.9" y2="240.4" stroke="#000" stroke-width="1.8" stroke-dasharray="6 7.5"/>
<text x="546.5" y="383.8" font-size="10.4" fill="#000" text-anchor="middle" stroke="#000" stroke-width="0.25">0.5h</text>
<text x="586.2" y="383.8" font-size="10.4" fill="#000" text-anchor="middle" stroke="#000" stroke-width="0.25">6h</text>
<text x="622.8" y="223.7" font-size="14.5" fill="#000" stroke="#000" stroke-width="0.25">k</text>
<line x1="640.4" y1="240.1" x2="640.4" y2="363.1" stroke="#000" stroke-width="1.8"/>
<line x1="637.4" y1="363.1" x2="641.3" y2="363.1" stroke="#000" stroke-width="1.8"/>
<text x="0" y="0" font-size="8.2" fill="#000" text-anchor="end" transform="translate(636.7 366.79) scale(1 1.25)" stroke="#000" stroke-width="0.25">0</text>
<line x1="637.4" y1="338.5" x2="641.3" y2="338.5" stroke="#000" stroke-width="1.8"/>
<text x="0" y="0" font-size="8.2" fill="#000" text-anchor="end" transform="translate(636.7 342.19) scale(1 1.25)" stroke="#000" stroke-width="0.25">20</text>
<line x1="637.4" y1="313.9" x2="641.3" y2="313.9" stroke="#000" stroke-width="1.8"/>
<text x="0" y="0" font-size="8.2" fill="#000" text-anchor="end" transform="translate(636.7 317.59) scale(1 1.25)" stroke="#000" stroke-width="0.25">40</text>
<line x1="637.4" y1="289.3" x2="641.3" y2="289.3" stroke="#000" stroke-width="1.8"/>
<text x="0" y="0" font-size="8.2" fill="#000" text-anchor="end" transform="translate(636.7 292.99) scale(1 1.25)" stroke="#000" stroke-width="0.25">60</text>
<line x1="637.4" y1="264.7" x2="641.3" y2="264.7" stroke="#000" stroke-width="1.8"/>
<text x="0" y="0" font-size="8.2" fill="#000" text-anchor="end" transform="translate(636.7 268.39) scale(1 1.25)" stroke="#000" stroke-width="0.25">80</text>
<line x1="637.4" y1="240.1" x2="641.3" y2="240.1" stroke="#000" stroke-width="1.8"/>
<text x="0" y="0" font-size="8.2" fill="#000" text-anchor="end" transform="translate(636.7 243.79) scale(1 1.25)" stroke="#000" stroke-width="0.25">100</text>
<line x1="651" y1="363.1" x2="651" y2="365.5" stroke="#000" stroke-width="1.3"/>
<line x1="664" y1="363.1" x2="664" y2="365.5" stroke="#000" stroke-width="1.3"/>
<line x1="650.9" y1="322.5" x2="650.9" y2="314.5" stroke="#6a0a14" stroke-width="1.8"/>
<line x1="649.6" y1="314.5" x2="652.2" y2="314.5" stroke="#6a0a14" stroke-width="1.8"/>
<line x1="664" y1="322" x2="664" y2="312.8" stroke="#6a0a14" stroke-width="1.8"/>
<line x1="662.7" y1="312.8" x2="665.3" y2="312.8" stroke="#6a0a14" stroke-width="1.8"/>
<rect x="646.15" y="323.55" width="9.4" height="39.55" fill="#808080"/>
<path d="M646.15 363.1V323.55H655.55V363.1" fill="none" stroke="#6a0a14" stroke-width="2.9" stroke-linejoin="miter"/>
<rect x="659.25" y="322.95" width="9.5" height="40.15" fill="#0000ff"/>
<path d="M659.25 363.1V322.95H668.75V363.1" fill="none" stroke="#6a0a14" stroke-width="2.9" stroke-linejoin="miter"/>
<text x="658" y="383.8" font-size="10.4" fill="#000" text-anchor="middle" stroke="#000" stroke-width="0.25">6h</text>
<line x1="215.8" y1="163.4" x2="294.8" y2="163.4" stroke="#000" stroke-width="2.2"/>
<line x1="360.7" y1="167.6" x2="460.2" y2="167.6" stroke="#000" stroke-width="2"/>
<line x1="500.9" y1="168" x2="594.4" y2="168" stroke="#000" stroke-width="2"/>
<line x1="638" y1="167.7" x2="683.2" y2="167.7" stroke="#000" stroke-width="2"/>
<line x1="178.6" y1="365" x2="248" y2="365" stroke="#000" stroke-width="1.7"/>
<line x1="304.4" y1="364.7" x2="372.5" y2="364.7" stroke="#000" stroke-width="1.7"/>
<line x1="422.4" y1="365.3" x2="501.3" y2="365.3" stroke="#000" stroke-width="1.8"/>
<line x1="529.2" y1="363.1" x2="606.8" y2="363.1" stroke="#000" stroke-width="1.8"/>
<line x1="639.5" y1="363.1" x2="677.2" y2="363.1" stroke="#000" stroke-width="1.8"/>
</svg></body></html>
